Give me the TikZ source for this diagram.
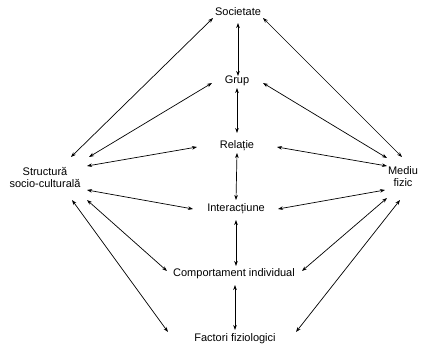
\documentclass[tikz,border=0pt]{standalone}
\usepackage{fontspec}
\setmainfont{Liberation Sans}
\usetikzlibrary{arrows.meta}
\begin{document}
\begin{tikzpicture}[x=1pt,y=-1pt,
  lbl/.style={inner sep=0pt,font=\fontsize{11}{12}\selectfont,align=center},
  arr/.style={line width=0.7pt,{Stealth[length=5pt,width=3.6pt]}-{Stealth[length=5pt,width=3.6pt]}}]
\useasboundingbox (0,0) rectangle (424,346);
\node[lbl] (S) at (238,12) {Societate};
\node[lbl] (G) at (237,81) {Grup};
\node[lbl] (R) at (237,146) {Relație};
\node[lbl] (I) at (236,209) {Interacțiune};
\node[lbl] (C) at (234,274) {Comportament individual};
\node[lbl] (F) at (235,339) {Factori fiziologici};
\node[lbl] (L) at (45,177) {Structură\\socio-culturală};
\node[lbl] (M) at (403,177) {Mediu\\fizic};
% vertical chain
\draw[arr] ([shift={(0,11)}]S.center) -- ([shift={(1,-5)}]G.center);
\draw[arr] ([shift={(0,7)}]G.center) -- ([shift={(0,-13)}]R.center);
\draw[arr] ([shift={(0,7)}]R.center) -- ([shift={(0,-9)}]I.center);
\draw[arr] ([shift={(0,11)}]I.center) -- ([shift={(2,-8)}]C.center);
\draw[arr] ([shift={(1,11)}]C.center) -- ([shift={(0,-9)}]F.center);
% left
\draw[arr] ([shift={(26,-20)}]L.center) -- ([shift={(-25,6)}]S.center);
\draw[arr] ([shift={(44,-20)}]L.center) -- ([shift={(-25,2)}]G.center);
\draw[arr] ([shift={(42,-11)}]L.center) -- ([shift={(-40,1)}]R.center);
\draw[arr] ([shift={(42,13)}]L.center) -- ([shift={(-43,0)}]I.center);
\draw[arr] ([shift={(42,23)}]L.center) -- ([shift={(-67,-3)}]C.center);
\draw[arr] ([shift={(27,23)}]L.center) -- ([shift={(-67,-7)}]F.center);
% right
\draw[arr] ([shift={(25,6)}]S.center) -- ([shift={(-1,-20)}]M.center);
\draw[arr] ([shift={(26,2)}]G.center) -- ([shift={(-16,-19)}]M.center);
\draw[arr] ([shift={(40,1)}]R.center) -- ([shift={(-16,-11)}]M.center);
\draw[arr] ([shift={(42,0)}]I.center) -- ([shift={(-18,13)}]M.center);
\draw[arr] ([shift={(68,-3)}]C.center) -- ([shift={(-16,21)}]M.center);
\draw[arr] ([shift={(61,-7)}]F.center) -- ([shift={(-3,23)}]M.center);
\end{tikzpicture}
\end{document}
